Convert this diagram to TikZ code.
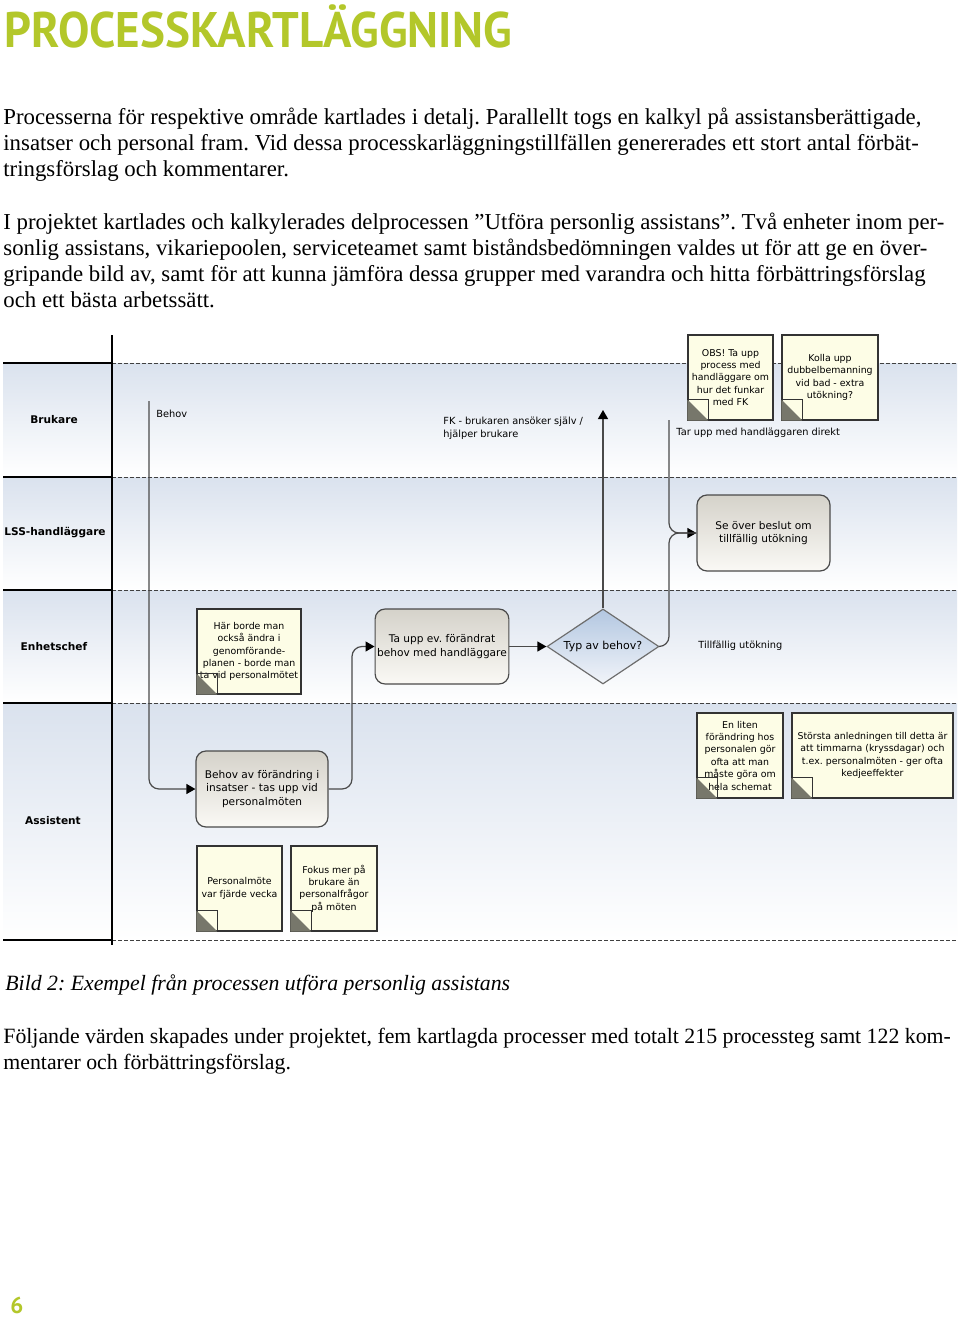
\documentclass[tikz,border=0pt]{standalone}
\usepackage{fontspec}
\setmainfont{Liberation Serif}
\newfontfamily\titlefont{PT Sans}
\newfontfamily\diafont{DejaVu Sans}
\usetikzlibrary{shapes.geometric,arrows.meta}
\frenchspacing

\definecolor{titlegreen}{HTML}{B3C72A}
\definecolor{lanetop}{HTML}{DAE2EE}
\definecolor{notefill}{HTML}{FDFDE6}
\definecolor{foldgray}{HTML}{77776B}
\definecolor{proctop}{HTML}{D5D2CA}
\definecolor{procbottom}{HTML}{FAF9F5}
\definecolor{diatop}{HTML}{B3C7E1}
\definecolor{diabottom}{HTML}{F1F4F9}
\definecolor{linegray}{HTML}{4A4A4A}

\tikzstyle{bodytext} = [anchor=base west, inner sep=0pt, align=left,
    font=\fontsize{11.4}{13}\selectfont]
\tikzstyle{lanetitle} = [inner sep=0pt, font=\diafont\bfseries\fontsize{5.3}{6.5}\selectfont]
\tikzstyle{procbox} = [draw=linegray, line width=0.6pt, rounded corners=5pt,
    top color=proctop, bottom color=procbottom, align=center, inner sep=1pt,
    font=\diafont\fontsize{5.3}{6.6}\selectfont]
\tikzstyle{decisionbox} = [diamond, draw=linegray!80, line width=0.6pt, aspect=1.5, inner sep=0pt,
    top color=diatop, bottom color=diabottom, font=\diafont\fontsize{5.5}{6.6}\selectfont]
\tikzstyle{notebox} = [rectangle, draw=black!80, line width=0.6pt, fill=notefill,
    align=center, inner sep=1pt, minimum height=42.5pt, font=\diafont\fontsize{4.7}{6.2}\selectfont]
\tikzstyle{flowlabel} = [inner sep=0pt, align=left, font=\diafont\fontsize{4.9}{6.4}\selectfont]
\tikzstyle{flow} = [draw=linegray, line width=0.6pt, rounded corners=5pt,
    -{Triangle[width=5pt,length=4.5pt,color=black]}]
\tikzstyle{flowline} = [draw=linegray, line width=0.6pt, rounded corners=5pt]

% folded corner of a note
\newcommand{\notefold}[1]{%
    \fill[foldgray] (#1.south west) -- ++(0,10.5pt) -- ++(10.5pt,-10.5pt) -- cycle;
    \draw[black!80, line width=0.5pt] ([yshift=10.5pt]#1.south west) -| ([xshift=10.5pt]#1.south west);}

\begin{document}
\begin{tikzpicture}[x=0.5pt, y=-0.5pt]
    \fill[white] (0,0) rectangle (960,1317);
    \useasboundingbox (0,0) rectangle (960,1317);

    \node[anchor=base west, inner sep=0pt, text=titlegreen,
        font=\titlefont\bfseries\fontsize{25}{30}\selectfont] (title) at (4,47)
        {\scalebox{0.94}[1]{PROCESSKARTLÄGGNING}};

    % body text, placed at the baseline of the last line
    \node[bodytext] (para1) at (3,176) {Processerna för respektive område kartlades i detalj. Parallellt togs en kalkyl på assistansberättigade,\\
        insatser och personal fram. Vid dessa processkarläggningstillfällen genererades ett stort antal förbät-\\
        tringsförslag och kommentarer.};
    \node[bodytext] (para2) at (3,307) {I projektet kartlades och kalkylerades delprocessen ”Utföra personlig assistans”. Två enheter inom per-\\
        sonlig assistans, vikariepoolen, serviceteamet samt biståndsbedömningen valdes ut för att ge en över-\\
        gripande bild av, samt för att kunna jämföra dessa grupper med varandra och hitta förbättringsförslag\\
        och ett bästa arbetssätt.};

    % lanes
    \foreach \ytop/\ybot in {363/477,477/590,590/703,703/940}
        \shade[top color=lanetop, bottom color=white] (3,\ytop) rectangle (957,\ybot);
    \foreach \yl in {363,477,590,703,940} {
        \draw[black, line width=0.7pt] (3,\yl) -- (112,\yl);
        \draw[black!75, line width=0.5pt, dash pattern=on 2pt off 1pt] (112,\yl) -- (957,\yl);
    }
    \draw[black, line width=0.7pt] (112,335) -- (112,945);

    \node[lanetitle] (brukare) at (54,420) {Brukare};
    \node[lanetitle] (lss) at (55,533) {LSS-handläggare};
    \node[lanetitle] (enhetschef) at (54,647) {Enhetschef};
    \node[lanetitle] (assistent) at (53,821) {Assistent};

    % process steps
    \node[procbox, minimum width=66.5pt, minimum height=38pt] (beslut) at (763.5,533)
        {Se över beslut om\\tillfällig utökning};
    \node[procbox, minimum width=66pt, minimum height=37.5pt] (tauppbehov) at (442,646.5)
        {Ta upp ev. förändrat\\behov med handläggare};
    \node[procbox, minimum width=66pt, minimum height=38pt] (behovbox) at (262,789)
        {Behov av förändring i\\insatser - tas upp vid\\personalmöten};
    \node[decisionbox, minimum width=56pt, minimum height=37.5pt] (typbehov) at (603,646.5)
        {Typ av behov?};

    % notes
    \node[notebox, minimum width=42.5pt] (obs) at (730.5,377.5)
        {OBS! Ta upp\\process med\\handläggare om\\hur det funkar\\med FK};
    \node[notebox, minimum width=48pt] (kolla) at (830,377.5)
        {Kolla upp\\dubbelbemanning\\vid bad - extra\\utökning?};
    \node[notebox, minimum width=52pt] (harborde) at (249,651.5)
        {Här borde man\\också ändra i\\genomförande-\\planen - borde man\\ta vid personalmötet};
    \node[notebox, minimum width=43pt] (enliten) at (740,755.5)
        {En liten\\förändring hos\\personalen gör\\ofta att man\\måste göra om\\hela schemat};
    \node[notebox, minimum width=80.5pt] (storsta) at (872.5,755.5)
        {Största anledningen till detta är\\att timmarna (kryssdagar) och\\t.ex. personalmöten - ger ofta\\kedjeeffekter};
    \node[notebox, minimum width=42.5pt] (personalmote) at (239.5,888.5)
        {Personalmöte\\var fjärde vecka};
    \node[notebox, minimum width=43pt] (fokus) at (334,888.5)
        {Fokus mer på\\brukare än\\personalfrågor\\på möten};
    \foreach \n in {obs,kolla,harborde,enliten,storsta,personalmote,fokus} {
        \notefold{\n}
    }

    % connectors
    \coordinate (behovstart) at (149,401);
    \coordinate (bend) at (352,646.5);
    \coordinate (fkend) at (603,410);
    \coordinate (direktstart) at (669,420);
    \coordinate (merge) at (669,533);

    \draw[flow] (behovstart) |- (behovbox.west);
    \draw[flow] (behovbox.east) -| (bend) -- (tauppbehov.west);
    \draw[flow] (tauppbehov.east) -- (typbehov.west);
    \draw[flow] (typbehov.north) -- (fkend);
    \draw[flow] (typbehov.east) -| (merge) -- (beslut.west);
    \draw[flowline] (direktstart) -- (merge) -- (beslut.west);

    \node[flowlabel, anchor=west] (behovlabel) at (156,414) {Behov};
    \node[flowlabel, anchor=west] (fklabel) at (443,428.5) {FK - brukaren ansöker själv /\\hjälper brukare};
    \node[flowlabel, anchor=west] (direktlabel) at (676,433) {Tar upp med handläggaren direkt};
    \node[flowlabel, anchor=west] (utokninglabel) at (698,646) {Tillfällig utökning};

    \node[anchor=base west, inner sep=0pt, font=\itshape\fontsize{10.9}{13}\selectfont] (caption) at (5,990)
        {Bild 2: Exempel från processen utföra personlig assistans};
    \node[bodytext, font=\fontsize{10.9}{13}\selectfont] (para3) at (3,1069) {Följande värden skapades under projektet, fem kartlagda processer med totalt 215 processteg samt 122 kom-\\
        mentarer och förbättringsförslag.};

    \node[anchor=base west, inner sep=0pt, text=titlegreen,
        font=\titlefont\bfseries\fontsize{11.5}{14}\selectfont] (pagenum) at (10,1313) {6};
\end{tikzpicture}
\end{document}
